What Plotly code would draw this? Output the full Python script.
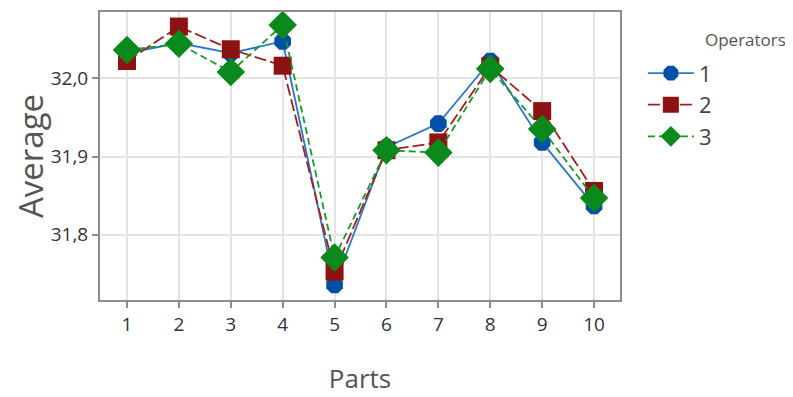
import plotly.graph_objects as go

parts = [1, 2, 3, 4, 5, 6, 7, 8, 9, 10]
op1 = [32.032, 32.045, 32.032, 32.047, 31.736, 31.912, 31.942, 32.022, 31.918, 31.837]
op2 = [32.022, 32.066, 32.037, 32.016, 31.753, 31.908, 31.918, 32.015, 31.958, 31.856]
op3 = [32.036, 32.044, 32.008, 32.068, 31.771, 31.908, 31.905, 32.012, 31.935, 31.847]
operators = ["1", "2", "3"]
y_ticks = [31.8, 31.9, 32.0]

fig = go.Figure()
fig.add_trace(go.Scatter(x=parts, y=op1, name=operators[0], mode="lines+markers",
                         line=dict(color="#2a78cc", width=1.8, dash="solid"),
                         marker=dict(symbol="octagon", size=18, color="#0050a8")))
fig.add_trace(go.Scatter(x=parts, y=op2, name=operators[1], mode="lines+markers",
                         line=dict(color="#a02020", width=1.8, dash="12px,4px"),
                         marker=dict(symbol="square", size=18, color="#8e1212")))
fig.add_trace(go.Scatter(x=parts, y=op3, name=operators[2], mode="lines+markers",
                         line=dict(color="#159a2a", width=1.8, dash="7px,4px"),
                         marker=dict(symbol="diamond", size=22, color="#0a8a1c")))

axis_common = dict(showline=True, linecolor="#8c8c8c", linewidth=2, mirror=True,
                   showgrid=True, gridcolor="#e4e4e4", gridwidth=1.5,
                   ticks="outside", ticklen=6, tickcolor="#8c8c8c", tickwidth=1.5,
                   tickfont=dict(family="Open Sans", size=19, color="#333333"),
                   zeroline=False, automargin=False)

fig.update_layout(
    width=793, height=397,
    margin=dict(l=92, r=181, t=4, b=105),
    paper_bgcolor="white", plot_bgcolor="white",
    separators=",.",
    showlegend=True,
    legend=dict(x=1.044, xanchor="left", y=0.86, yanchor="top",
                font=dict(family="Open Sans", size=22, color="#444444"),
                itemwidth=46, tracegroupgap=0, bgcolor="rgba(0,0,0,0)"),
    annotations=[dict(text="Operators", xref="paper", yref="paper", x=1.16, y=0.903,
                      xanchor="left", yanchor="middle", showarrow=False,
                      font=dict(family="Open Sans", size=17, color="#555555"))],
    xaxis=dict(**axis_common, range=[0.48, 10.5], tickmode="array", tickvals=parts,
               ticktext=[str(p) for p in parts],
               title=dict(text="Parts", font=dict(family="Open Sans", size=26, color="#555555"), standoff=34)),
    yaxis=dict(**axis_common, range=[31.7167, 32.0846], tickmode="array", tickvals=y_ticks,
               tickformat=".1f",
               title=dict(text="Average", font=dict(family="Open Sans", size=33, color="#555555"), standoff=18)),
)

fig.write_html("out.html")
